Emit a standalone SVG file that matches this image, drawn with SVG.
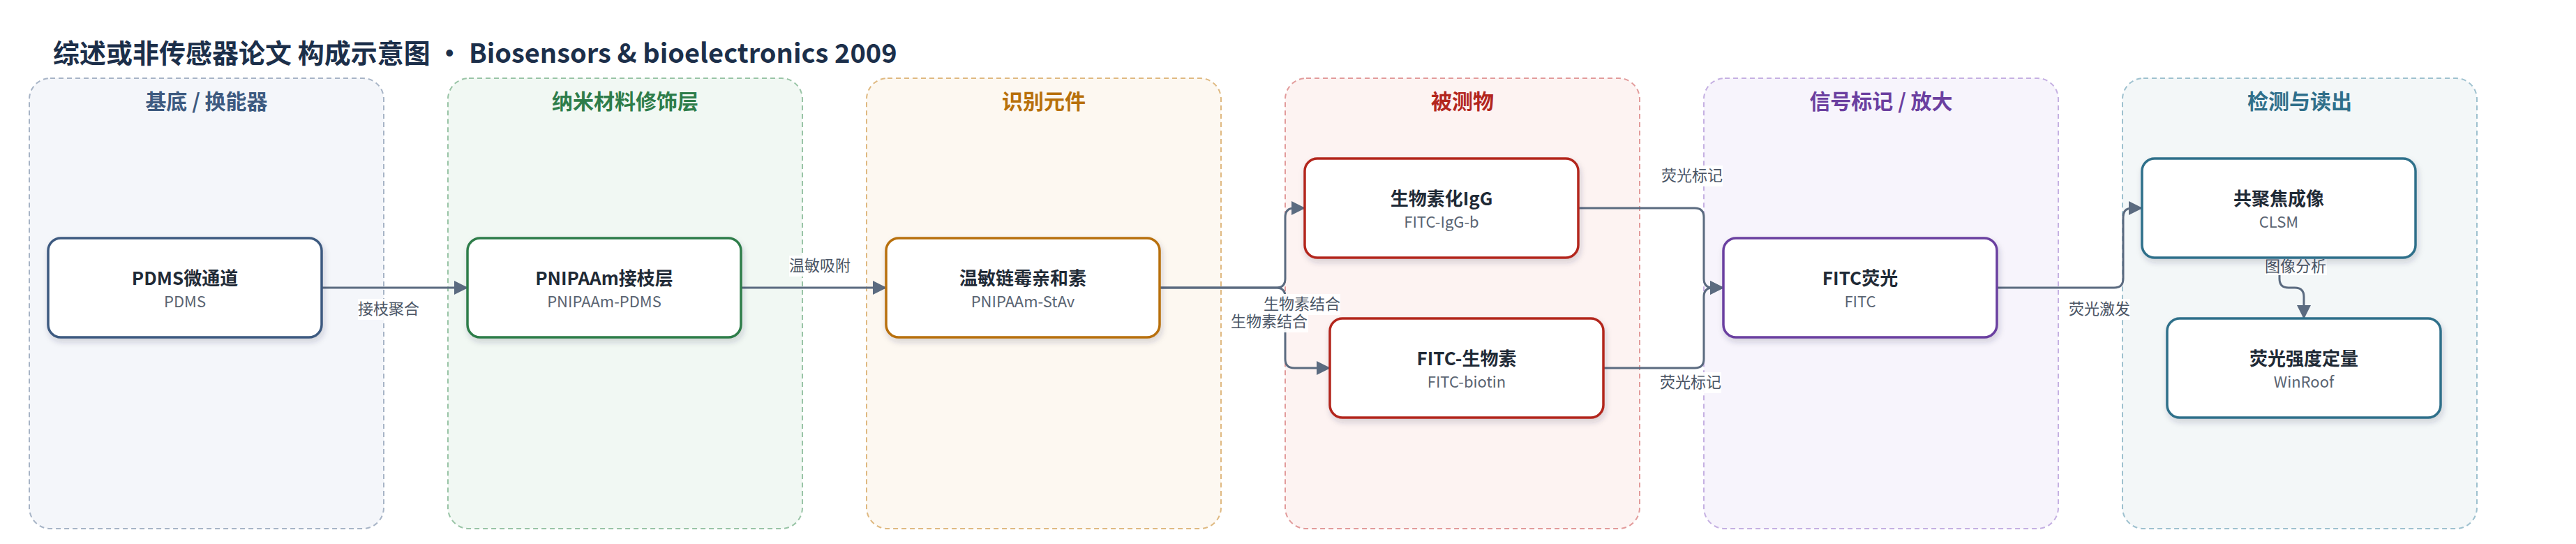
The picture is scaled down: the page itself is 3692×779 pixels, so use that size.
<svg xmlns="http://www.w3.org/2000/svg" width="3692" height="779" viewBox="0 0 3692 779">
<style>
  text { font-family: "Noto Sans CJK SC", "Noto Sans", sans-serif; }
  .title { font-size: 38px; font-weight: 700; fill: #1c2f4a; }
  .ctitle { font-size: 30px; font-weight: 700; text-anchor: middle; }
  .cluster { stroke-width: 2; stroke-dasharray: 7 5; }
  .node { fill: #ffffff; stroke-width: 3.5; filter: url(#shadow); }
  .ntitle { font-size: 26px; font-weight: 700; fill: #1f2a36; text-anchor: middle; }
  .nsub { font-size: 22px; fill: #5a6472; text-anchor: middle; }
  .edge { fill: none; stroke: #5b6b80; stroke-width: 3; marker-end: url(#arrow); }
  .elabel { font-size: 22px; fill: #4a5565; text-anchor: middle; }
  .lbg { fill: #ffffff; opacity: 0.92; }
</style>
<defs>
  <filter id="shadow" x="-10%" y="-20%" width="125%" height="150%">
    <feDropShadow dx="2" dy="5" stdDeviation="4" flood-color="#1c2f4a" flood-opacity="0.18"/>
  </filter>
  <marker id="arrow" markerUnits="userSpaceOnUse" markerWidth="20" markerHeight="20" refX="19" refY="10" orient="auto">
    <path d="M0,0 L20,10 L0,20 z" fill="#5b6b80"/>
  </marker>
</defs>
<rect width="3692" height="779" fill="#ffffff"/>
<text class="title" x="76" y="90">综述或非传感器论文 构成示意图 • Biosensors &amp; bioelectronics 2009</text>

<g id="cluster-substrate">
  <rect class="cluster" x="42" y="112" width="508" height="645" rx="30" fill="#f4f6fa" stroke="#a7b4c6"/>
  <text class="ctitle" x="296" y="156" fill="#3d5a80">基底 / 换能器</text>
</g>
<g id="cluster-nano">
  <rect class="cluster" x="642" y="112" width="508" height="645" rx="30" fill="#f1f8f3" stroke="#99c4a6"/>
  <text class="ctitle" x="896" y="156" fill="#2e7d4a">纳米材料修饰层</text>
</g>
<g id="cluster-recog">
  <rect class="cluster" x="1242" y="112" width="508" height="645" rx="30" fill="#fdf8f1" stroke="#dfb981"/>
  <text class="ctitle" x="1496" y="156" fill="#b8700a">识别元件</text>
</g>
<g id="cluster-analyte">
  <rect class="cluster" x="1842" y="112" width="508" height="645" rx="30" fill="#fdf3f2" stroke="#e29b9b"/>
  <text class="ctitle" x="2096" y="156" fill="#b3261e">被测物</text>
</g>
<g id="cluster-label">
  <rect class="cluster" x="2442" y="112" width="508" height="645" rx="30" fill="#f7f4fc" stroke="#c5b0e2"/>
  <text class="ctitle" x="2696" y="156" fill="#6b3fa0">信号标记 / 放大</text>
</g>
<g id="cluster-detect">
  <rect class="cluster" x="3042" y="112" width="508" height="645" rx="30" fill="#f3f7f8" stroke="#9ec1cf"/>
  <text class="ctitle" x="3296" y="156" fill="#2f6f8a">检测与读出</text>
</g>

<g id="connectors">
  <path class="edge" d="M461,412 H670"/>
  <path class="edge" d="M1061,412 H1270"/>
  <path class="edge" d="M1661,412 H1829 Q1842,412 1842,399 V311 Q1842,298 1855,298 H1870"/>
  <path class="edge" d="M1661,412 H1829 Q1842,412 1842,425 V514 Q1842,527 1855,527 H1906"/>
  <path class="edge" d="M2262,298 H2429 Q2442,298 2442,311 V399 Q2442,412 2455,412 H2470"/>
  <path class="edge" d="M2298,527 H2429 Q2442,527 2442,514 V425 Q2442,412 2455,412 H2470"/>
  <path class="edge" d="M2861,412 H3030 Q3043,412 3043,399 V311 Q3043,298 3056,298 H3070"/>
  <path class="edge" d="M3267,369 V399 Q3267,412 3280,412 H3289 Q3302,412 3302,425 V456"/>

  <rect class="lbg" x="513" y="428" width="88" height="30"/>
  <text class="elabel" x="557" y="450">接枝聚合</text>
  <rect class="lbg" x="1131" y="366" width="88" height="30"/>
  <text class="elabel" x="1175" y="388">温敏吸附</text>
  <rect class="lbg" x="1810" y="421" width="111" height="30"/>
  <text class="elabel" x="1866" y="443">生物素结合</text>
  <rect class="lbg" x="1764" y="446" width="111" height="30"/>
  <text class="elabel" x="1819" y="468">生物素结合</text>
  <rect class="lbg" x="2381" y="237" width="88" height="30"/>
  <text class="elabel" x="2425" y="259">荧光标记</text>
  <rect class="lbg" x="2379" y="533" width="88" height="30"/>
  <text class="elabel" x="2423" y="555">荧光标记</text>
  <rect class="lbg" x="2965" y="428" width="88" height="30"/>
  <text class="elabel" x="3009" y="450">荧光激发</text>
  <rect class="lbg" x="3246" y="366" width="89" height="28"/>
  <text class="elabel" x="3290" y="389">图像分析</text>
</g>

<g id="node-pdms">
  <rect class="node" x="69" y="341" width="392" height="142" rx="18" stroke="#3d5a80"/>
  <text class="ntitle" x="265" y="408">PDMS微通道</text>
  <text class="nsub" x="265" y="440">PDMS</text>
</g>
<g id="node-pnipaam">
  <rect class="node" x="670" y="341" width="392" height="142" rx="18" stroke="#2e7d4a"/>
  <text class="ntitle" x="866" y="408">PNIPAAm接枝层</text>
  <text class="nsub" x="866" y="440">PNIPAAm-PDMS</text>
</g>
<g id="node-stav">
  <rect class="node" x="1270" y="341" width="392" height="142" rx="18" stroke="#b8700a"/>
  <text class="ntitle" x="1466" y="408">温敏链霉亲和素</text>
  <text class="nsub" x="1466" y="440">PNIPAAm-StAv</text>
</g>
<g id="node-igg">
  <rect class="node" x="1870" y="227" width="392" height="142" rx="18" stroke="#b3261e"/>
  <text class="ntitle" x="2066" y="294">生物素化IgG</text>
  <text class="nsub" x="2066" y="326">FITC-IgG-b</text>
</g>
<g id="node-biotin">
  <rect class="node" x="1906" y="456" width="392" height="142" rx="18" stroke="#b3261e"/>
  <text class="ntitle" x="2102" y="523">FITC-生物素</text>
  <text class="nsub" x="2102" y="555">FITC-biotin</text>
</g>
<g id="node-fitc">
  <rect class="node" x="2470" y="341" width="392" height="142" rx="18" stroke="#6b3fa0"/>
  <text class="ntitle" x="2666" y="408">FITC荧光</text>
  <text class="nsub" x="2666" y="440">FITC</text>
</g>
<g id="node-clsm">
  <rect class="node" x="3070" y="227" width="392" height="142" rx="18" stroke="#2f6f8a"/>
  <text class="ntitle" x="3266" y="294">共聚焦成像</text>
  <text class="nsub" x="3266" y="326">CLSM</text>
</g>
<g id="node-winroof">
  <rect class="node" x="3106" y="456" width="392" height="142" rx="18" stroke="#2f6f8a"/>
  <text class="ntitle" x="3302" y="523">荧光强度定量</text>
  <text class="nsub" x="3302" y="555">WinRoof</text>
</g>
</svg>
